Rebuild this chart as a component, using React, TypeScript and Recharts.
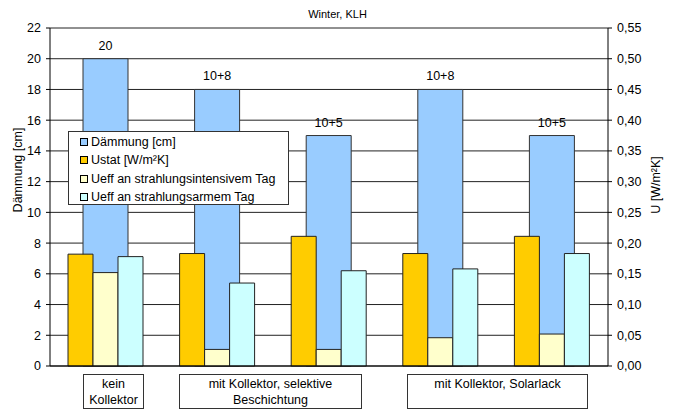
import React from 'react';
import { ComposedChart, Bar, XAxis, YAxis, CartesianGrid, Legend, LabelList } from 'recharts';

const categories = ['kein Kollektor', 'selektiv 10+8', 'selektiv 10+5', 'Solarlack 10+8', 'Solarlack 10+5'];
const daemmung = [20, 18, 15, 18, 15];
const daemmungLabels = ['20', '10+8', '10+5', '10+8', '10+5'];
const ustat = [0.182, 0.183, 0.211, 0.183, 0.211];
const ueffIntensiv = [0.152, 0.027, 0.027, 0.046, 0.052];
const ueffArm = [0.178, 0.135, 0.155, 0.158, 0.183];
const seriesNames = ['Dämmung [cm]', 'Ustat [W/m²K]', 'Ueff an strahlungsintensivem Tag', 'Ueff an strahlungsarmem Tag'];
const leftTicks = [0, 2, 4, 6, 8, 10, 12, 14, 16, 18, 20, 22];
const rightTicks = [0, 0.05, 0.1, 0.15, 0.2, 0.25, 0.3, 0.35, 0.4, 0.45, 0.5, 0.55];
const groupLabels = [
  { first: 0, lines: ['kein', 'Kollektor'] },
  { first: 1, lines: ['mit Kollektor, selektive', 'Beschichtung'] },
  { first: 3, lines: ['mit Kollektor, Solarlack'] },
];
// box extents relative to the first category's centre (style only)
const groupBoxStyle = [
  { dx0: -22.5, dx1: 37.5 },
  { dx0: -38, dx1: 144 },
  { dx0: -34, dx1: 146 },
];

const data = categories.map((c, i) => ({
  cat: c,
  daemmung: daemmung[i],
  label: daemmungLabels[i],
  ustat: ustat[i],
  ueffIntensiv: ueffIntensiv[i],
  ueffArm: ueffArm[i],
}));

const FONT = '"Liberation Sans", Arial, sans-serif';
const FS = 12.5;

const GroupTick = (props: any) => {
  const { x, y, index } = props;
  const gi = groupLabels.findIndex((g) => g.first === index);
  if (gi < 0) return null;
  const g = groupLabels[gi];
  const st = groupBoxStyle[gi];
  const left = Math.round(x + st.dx0) + 0.5;
  const right = Math.round(x + st.dx1) + 0.5;
  const top = Math.round(y) + 0.5;
  const cx = (left + right) / 2;
  return (
    <g>
      <rect x={left} y={top} width={right - left} height={34} fill="#fff" stroke="#333" strokeWidth={1} />
      <text textAnchor="middle" fontSize={FS} fontFamily={FONT} fill="#000">
        {g.lines.map((l, i) => (
          <tspan key={i} x={cx} y={top + 13} dy={i * 16.5}>
            {l}
          </tspan>
        ))}
      </text>
    </g>
  );
};

const LegendBox = (props: any) => {
  const payload = [...(props.payload || [])].sort(
    (a: any, b: any) => seriesNames.indexOf(a.value) - seriesNames.indexOf(b.value)
  );
  return (
    <div
      style={{
        width: 221,
        height: 74,
        boxSizing: 'border-box',
        border: '1px solid #333',
        background: '#fff',
        paddingTop: 1,
        fontFamily: FONT,
        fontSize: FS,
        color: '#000',
      }}
    >
      {payload.map((e: any, i: number) => (
        <div key={i} style={{ height: 18.3, display: 'flex', alignItems: 'center', whiteSpace: 'nowrap' }}>
          <span
            style={{
              display: 'inline-block',
              width: 8,
              height: 8,
              boxSizing: 'border-box',
              border: '1px solid #000',
              background: e.color,
              marginLeft: 11,
              marginRight: 3,
            }}
          />
          <span>{e.value}</span>
        </div>
      ))}
    </div>
  );
};

const fmtRight = (v: number) => v.toFixed(2).replace('.', ',');

export default function App() {
  return (
    <div style={{ position: 'absolute', left: 0, top: 0, width: 675, height: 410, background: '#fff', fontFamily: FONT }}>
      <div
        style={{
          position: 'absolute',
          left: 0,
          width: 675,
          top: 7,
          textAlign: 'center',
          fontSize: 11,
          lineHeight: '14px',
          color: '#000',
          zIndex: 2,
        }}
      >
        Winter, KLH
      </div>
      <ComposedChart
        width={675}
        height={410}
        data={data}
        margin={{ top: 28, right: 0, bottom: 0, left: 0 }}
        barGap={0}
        style={{ fontFamily: FONT }}
      >
        <CartesianGrid xAxisId="main" yAxisId="left" vertical={false} stroke="#222" strokeWidth={1} />
        <XAxis xAxisId="front" dataKey="cat" hide height={0} />
        <XAxis
          xAxisId="main"
          dataKey="cat"
          height={44}
          interval={0}
          axisLine={{ stroke: '#000' }}
          tickLine={false}
          tickSize={6}
          tickMargin={2}
          tick={<GroupTick />}
        />
        <YAxis
          yAxisId="left"
          width={50}
          domain={[0, 22]}
          ticks={leftTicks}
          interval={0}
          axisLine={{ stroke: '#000' }}
          tickLine={{ stroke: '#000' }}
          tickSize={4}
          tickMargin={5}
          tick={{ fill: '#000', fontSize: FS, fontFamily: FONT }}
          label={{
            content: () => (
              <text
                x={18}
                y={170}
                transform="rotate(-90 18 170)"
                textAnchor="middle"
                dominantBaseline="central"
                fontSize={FS}
                fontFamily={FONT}
                fill="#000"
              >
                Dämmung [cm]
              </text>
            ),
          }}
        />
        <YAxis
          yAxisId="right"
          orientation="right"
          width={67}
          domain={[0, 0.55]}
          ticks={rightTicks}
          interval={0}
          tickFormatter={fmtRight}
          axisLine={{ stroke: '#000' }}
          tickLine={{ stroke: '#000' }}
          tickSize={4}
          tickMargin={5}
          tick={{ fill: '#000', fontSize: FS, fontFamily: FONT }}
          label={{
            content: () => (
              <text
                x={656}
                y={185}
                transform="rotate(-90 656 185)"
                textAnchor="middle"
                dominantBaseline="central"
                fontSize={FS}
                fontFamily={FONT}
                fill="#000"
              >
                U [W/m²K]
              </text>
            ),
          }}
        />
        <Legend
          layout="horizontal"
          verticalAlign="middle"
          align="center"
          content={<LegendBox />}
          wrapperStyle={{ left: 68, top: 131, width: 221, height: 74, zIndex: 3 }}
        />
        <Bar
          xAxisId="main"
          yAxisId="left"
          dataKey="daemmung"
          name="Dämmung [cm]"
          fill="#99CCFF"
          stroke="#333"
          strokeWidth={1}
          barSize={45}
          isAnimationActive={false}
        >
          <LabelList dataKey="label" position="top" offset={9} fill="#000" fontSize={FS} fontFamily={FONT} />
        </Bar>
        <Bar
          xAxisId="front"
          yAxisId="right"
          dataKey="ustat"
          name="Ustat [W/m²K]"
          fill="#FFCC00"
          stroke="#222"
          strokeWidth={1}
          barSize={25}
          isAnimationActive={false}
        />
        <Bar
          xAxisId="front"
          yAxisId="right"
          dataKey="ueffIntensiv"
          name="Ueff an strahlungsintensivem Tag"
          fill="#FFFFCC"
          stroke="#222"
          strokeWidth={1}
          barSize={25}
          isAnimationActive={false}
        />
        <Bar
          xAxisId="front"
          yAxisId="right"
          dataKey="ueffArm"
          name="Ueff an strahlungsarmem Tag"
          fill="#CCFFFF"
          stroke="#222"
          strokeWidth={1}
          barSize={25}
          isAnimationActive={false}
        />
      </ComposedChart>
    </div>
  );
}
